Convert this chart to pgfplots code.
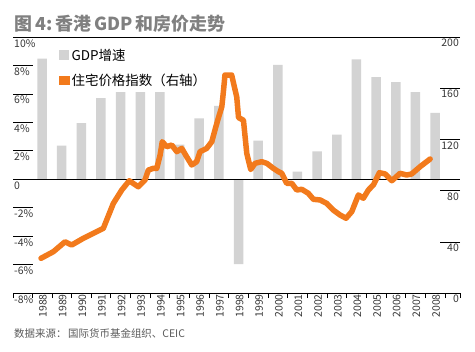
\documentclass[border=0pt]{standalone}
\usepackage{pgfplots}
\pgfplotsset{compat=1.18}
\usepackage{fontspec}
\setmainfont{Noto Sans CJK SC}
\definecolor{bargray}{RGB}{211,211,211}
\definecolor{hkorange}{RGB}{242,122,28}
\definecolor{titlegray}{RGB}{128,128,128}
\definecolor{labelgray}{RGB}{55,55,55}
\definecolor{srcgray}{RGB}{90,90,90}
\begin{document}
\begin{tikzpicture}[x=1bp,y=1bp]
\path (0,0) rectangle (475,351);
\pgfplotsset{common/.style={scale only axis, width=447bp, height=256bp, at={(13bp,58bp)}, anchor=south west,
  xmin=1986.524, xmax=2009.27, clip=false, axis line style={draw=none},
  /pgf/number format/assume math mode=true,
  tick style={black, line width=0.6pt},
  ticklabel style={font=\fontsize{10.5}{12}\selectfont, text=labelgray}}}
% ---- bars, left axis
\begin{axis}[common, ymin=-8, ymax=10,
  ytick={-8,-6,...,10}, yticklabels={-8\%,-6\%,-4\%,-2\%,0,2\%,4\%,6\%,8\%,10\%},
  ytick pos=left, tick align=inside, major tick length=20bp,
  yticklabel style={anchor=north west, inner sep=1bp, yshift=-1bp},
  xtick=\empty,
  legend style={at={(0.103,0.962)}, anchor=north west, draw=none, fill=none,
    font=\fontsize{13.5}{15}\selectfont, inner sep=0pt, row sep=8bp, cells={anchor=west}},
  legend cell align=left]
\addplot[ybar, bar width=9.5bp, fill=bargray, draw=none,
  legend image code/.code={\fill[bargray] (0bp,-5bp) rectangle (10bp,5bp);}] coordinates {
(1988,8.48) (1989,2.37) (1990,3.95) (1991,5.71) (1992,6.13) (1993,6.13) (1994,6.13)
(1995,2.44) (1996,4.27) (1997,5.16) (1998,-5.97) (1999,2.72) (2000,8.04) (2001,0.53)
(2002,1.95) (2003,3.14) (2004,8.43) (2005,7.18) (2006,6.83) (2007,6.13) (2008,4.67)};
\addlegendentry{GDP增速}
\addlegendimage{legend image code/.code={\fill[hkorange] (0bp,-4bp) rectangle (10bp,4bp);}}
\addlegendentry{住宅价格指数（右轴）}
\draw[black, line width=0.8pt] (axis cs:1986.524,0) -- (axis cs:2009.27,0);
\draw[black, line width=0.8pt] (rel axis cs:0,0) -- (rel axis cs:1,0);
\draw[black, line width=0.8pt] (rel axis cs:0,1) -- (rel axis cs:1,1);
\end{axis}
% ---- line, right axis
\begin{axis}[common, ymin=0, ymax=200,
  ytick={0,40,...,200}, ytick pos=right, tick align=inside, major tick length=20bp,
  yticklabel style={anchor=north east, inner sep=1bp, yshift=-1bp},
  xtick=\empty]
\addplot[hkorange, line width=5.5bp, line join=round, line cap=round] coordinates {
(1987.95,27.1) (1988.58,32.3) (1989.17,40.0) (1989.51,37.5) (1990.10,42.7) (1990.95,49.2)
(1991.12,50.5) (1991.63,70.0) (1992.06,80.5) (1992.44,87.7) (1992.90,83.0) (1993.24,88.3)
(1993.41,96.0) (1993.66,97.4) (1993.84,97.4) (1994.01,107.8) (1994.12,118.2) (1994.35,114.3)
(1994.60,115.6) (1994.86,110.4) (1995.11,113.0) (1995.36,106.5) (1995.62,100.0) (1995.87,102.6)
(1996.04,110.4) (1996.38,113.0) (1996.64,118.2) (1996.80,127.3) (1996.97,136.5) (1997.15,145.5)
(1997.23,157.3) (1997.31,170.3) (1997.48,170.3) (1997.65,170.3) (1997.91,153.0) (1998.00,137.0)
(1998.25,135.0) (1998.42,109.0) (1998.62,96.5) (1998.84,101.3) (1999.18,102.6) (1999.44,101.3)
(1999.77,97.4) (2000.03,94.8) (2000.20,93.5) (2000.45,85.7) (2000.71,85.7) (2000.96,80.5)
(2001.22,81.0) (2001.55,77.9) (2001.81,73.2) (2002.15,72.7) (2002.49,70.0) (2002.82,64.8)
(2003.17,60.9) (2003.47,58.4) (2003.76,63.5) (2004.10,76.6) (2004.35,74.0) (2004.61,80.5)
(2004.86,84.4) (2005.17,94.0) (2005.46,93.0) (2005.80,87.7) (2006.22,93.5) (2006.56,92.2)
(2006.81,93.0) (2007.24,98.7) (2007.75,104.7)};
\end{axis}
% ---- x ticks
\begin{axis}[common, ymin=0, ymax=1, ytick=\empty,
  xtick={1988,1989,1990,1991,1992,1993,1994,1995,1996,1997,1998,1999,2000,2001,2002,2003,2004,2005,2006,2007,2008},
  xticklabels={1988,1989,1990,1991,1992,1993,1994,1995,1996,1997,1998,1999,2000,2001,2002,2003,2004,2005,2006,2007,2008},
  major tick length=0pt, minor tick length=5bp, tick align=outside, xtick pos=bottom,
  minor xtick={1986.524,1987.5,1988.5,...,2008.5,2009.27},
  xticklabel style={rotate=90, anchor=east, inner sep=1bp, yshift=-1bp}]
\addplot[draw=none] coordinates {(1988,0.5)};
\end{axis}
\node[anchor=west, inner sep=0pt, text=titlegray, font=\fontsize{18}{20}\selectfont\bfseries] at (14,327) {图\,4:\,香港\,GDP\,和房价走势};
\node[anchor=west, inner sep=0pt, text=srcgray, font=\fontsize{10.5}{12}\selectfont] at (14,18) {数据来源：\,国际货币基金组织、CEIC};
\end{tikzpicture}
\end{document}
